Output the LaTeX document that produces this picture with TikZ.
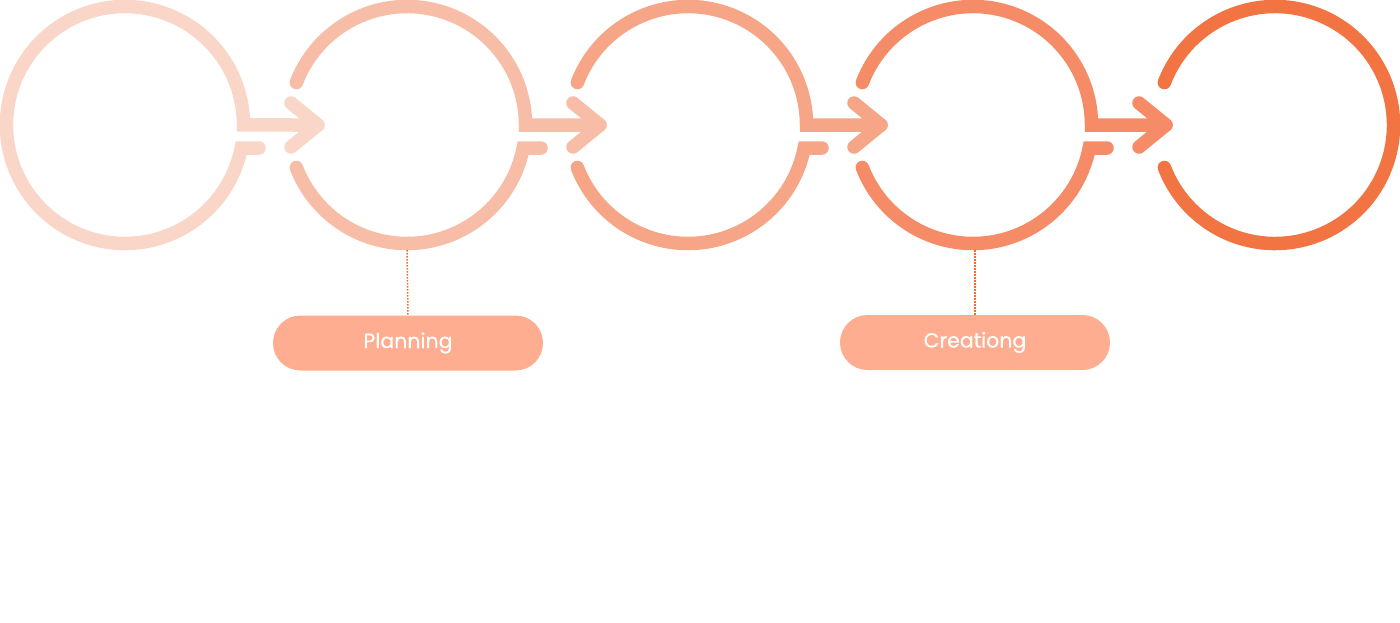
\documentclass[tikz,border=0pt]{standalone}
\usepackage{fontspec}
\setmainfont{Poppins}
\newfontfamily\tagfont[FakeBold=0.4]{Poppins}
\definecolor{cA}{HTML}{FAD6C9}
\definecolor{cB}{HTML}{F8BDA6}
\definecolor{cC}{HTML}{F6A587}
\definecolor{cD}{HTML}{F58C67}
\definecolor{cE}{HTML}{F37443}
\definecolor{pillc}{HTML}{FEAD91}
\definecolor{dotc}{HTML}{F26A35}
\begin{document}
\begin{tikzpicture}[x=1pt,y=-1pt,
  ring/.style={line width=13.5pt, line cap=round, line join=miter},
  chev/.style={line width=13.5pt, line cap=round, line join=round},
  tag/.style={fill=pillc, rounded corners=27.5pt, minimum width=270pt, minimum height=55pt, inner sep=0pt, text=white, font=\tagfont\fontsize{20.5}{24}\selectfont},
  link/.style={draw=dotc, line width=1.5pt, dash pattern=on 1.5pt off 1.5pt},
  hub/.style={circle, minimum size=250pt, inner sep=0pt}]
\useasboundingbox (0,0) rectangle (1400,622);
\node[hub] (c1) at (125,125) {};
\node[hub] (c2) at (407,125) {};
\node[hub] (c3) at (688,125) {};
\node[hub] (c4) at (973,125) {};
\node[hub] (c5) at (1275,125) {};
% circle 1
\draw[ring,cA] ([shift={(134,23)}]c1.center) -- ([shift={(116.2,23)}]c1.center) arc[start angle=11.2,end angle=360,radius=118.5] -- ([shift={(193,0)}]c1.center);
\draw[chev,cA] ([shift={(166,-22)}]c1.center) -- ([shift={(193,0)}]c1.center) -- ([shift={(166,22)}]c1.center);
% circles 2-4
\foreach \c/\col in {c2/cB,c3/cC,c4/cD}{
  \draw[ring,\col] ([shift={(201:118.5)}]\c.center) arc[start angle=201,end angle=360,radius=118.5] -- ([shift={(193,0)}]\c.center);
  \draw[ring,\col] ([shift={(134,23)}]\c.center) -- ([shift={(116.2,23)}]\c.center) arc[start angle=11.2,end angle=159,radius=118.5];
  \draw[chev,\col] ([shift={(166,-22)}]\c.center) -- ([shift={(193,0)}]\c.center) -- ([shift={(166,22)}]\c.center);
}
% circle 5
\draw[ring,cE] ([shift={(201:118.5)}]c5.center) arc[start angle=201,end angle=519,radius=118.5];
% labels
\node[tag] (p1) at (408,343) {Planning};
\node[tag] (p2) at (975,342.5) {Creationg};
\draw[link] (c2.south) -- (p1.north);
\draw[link] (p2.north |- c4.south) -- (p2.north);
\end{tikzpicture}
\end{document}
